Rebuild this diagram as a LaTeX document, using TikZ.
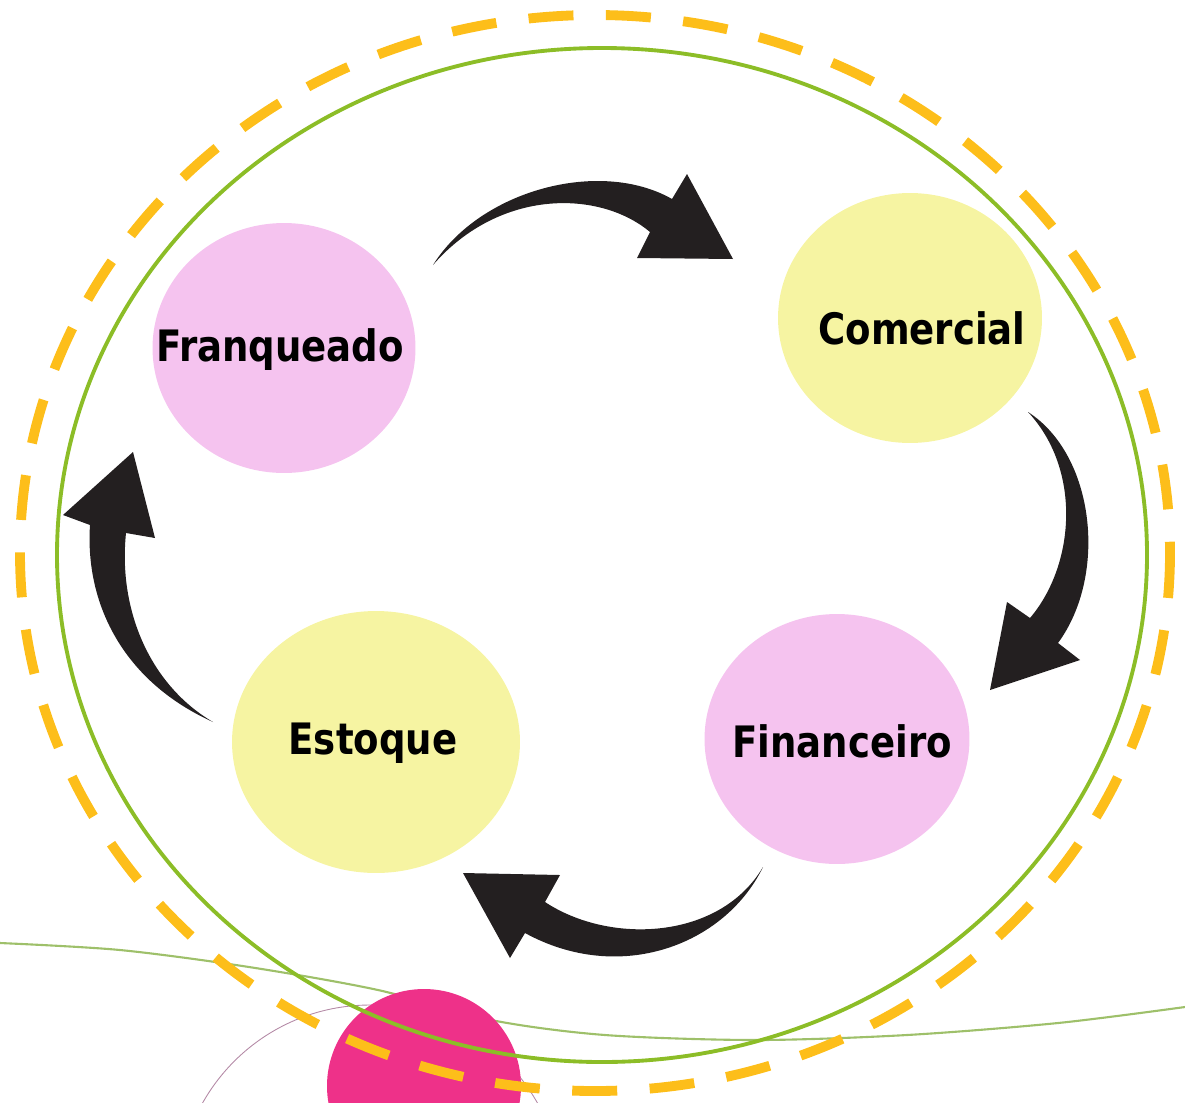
\documentclass[tikz,border=0pt]{standalone}
\usepackage{fontspec}
\setmainfont{DejaVu Sans}
\usetikzlibrary{shapes.geometric}
\definecolor{rosa}{HTML}{F5C3EF}
\definecolor{amarelo}{HTML}{F6F4A2}
\definecolor{verde}{HTML}{8CBD27}
\definecolor{laranja}{HTML}{FDBE1A}
\definecolor{magenta}{HTML}{EE3189}
\definecolor{malva}{HTML}{B48AA6}
\definecolor{seta}{HTML}{231F20}
\definecolor{onda}{HTML}{9EC06A}
\newcommand{\rotulo}[1]{\scalebox{0.96}[1.12]{#1}}
\begin{document}
\begin{tikzpicture}[x=0.02cm,y=-0.02cm,
    setor/.style={ellipse,inner sep=0pt,font=\fontsize{22}{26}\selectfont\bfseries},
    seta/.style={fill=seta,draw=none}]
    \useasboundingbox (0,0) rectangle (1185,1102);
    \clip (0,0) rectangle (1185,1102);
    % fundo
    \draw [onda,line width=1.2pt] plot [smooth] coordinates {(0,943) (120,950) (249,967) (378,990) (491,1020) (605,1035) (756,1040) (907,1035) (1058,1023) (1185,1007)};
    \draw [malva,line width=0.5pt] (370,1197) circle (192);
    \fill [magenta] (424,1086) circle (97);
    % circulos externos
    \draw [verde,line width=2.2pt] (602,555) ellipse (545 and 507);
    \draw [laranja,line width=5.6pt,dash pattern=on 0.9cm off 0.65cm] (595,553) ellipse (575 and 538);
    % setores
    \node [setor,fill=rosa,minimum width=5.26cm,minimum height=5cm] (fran) at (284,348) {};
    \node [setor,fill=amarelo,minimum width=5.28cm,minimum height=5cm] (com) at (910,318) {};
    \node [setor,fill=rosa,minimum width=5.3cm,minimum height=5cm] (fin) at (837,739) {};
    \node [setor,fill=amarelo,minimum width=5.76cm,minimum height=5.24cm] (est) at (376,742) {};
    \node [setor] at (280,350) {\rotulo{Franqueado}};
    \node [setor] at (922,328) {\rotulo{Comercial}};
    \node [setor] at (842,741) {\rotulo{Financeiro}};
    \node [setor] at (373,743) {\rotulo{Estoque}};
    % setas
    \fill [seta] (433,265) .. controls (480,190) and (600,158) .. (672,199) -- (687,174) -- (733,259) -- (637,258) -- (650,232) .. controls (600,190) and (500,188) .. (433,265) -- cycle;
    \fill [seta] (1028,412) .. controls (1095,455) and (1108,575) .. (1058,643) -- (1080,660) -- (990,690) -- (1007,602) -- (1030,618) .. controls (1075,565) and (1082,470) .. (1028,412) -- cycle;
    \fill [seta] (763,867) .. controls (725,945) and (620,985) .. (525,933) -- (510,958) -- (463,873) -- (560,875) -- (545,902) .. controls (610,945) and (720,940) .. (763,867) -- cycle;
    \fill [seta] (213,722) .. controls (120,680) and (85,600) .. (90,525) -- (63,515) -- (133,452) -- (155,538) -- (126,533) .. controls (118,610) and (150,685) .. (213,722) -- cycle;
\end{tikzpicture}
\end{document}
